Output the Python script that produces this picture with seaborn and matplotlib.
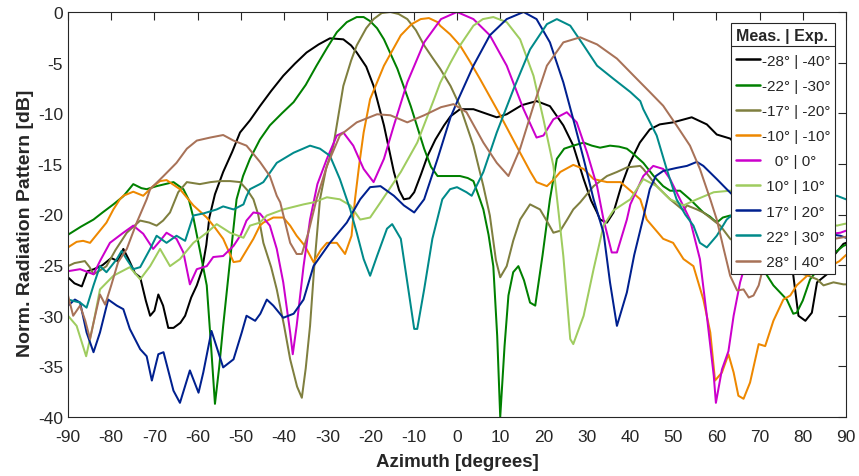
import matplotlib
matplotlib.use("Agg")
import matplotlib.pyplot as plt
from matplotlib.lines import Line2D
import pandas as pd
import seaborn as sns

# Steering cases: measured angle | expected angle (degrees)
meas_angles = [-28, -22, -17, -10, 0, 10, 17, 22, 28]
exp_angles = [-40, -30, -20, -10, 0, 10, 20, 30, 40]
line_colors = ["#000000", "#008000", "#7f7f3f", "#ee8800", "#cc00cc",
               "#9fcc5f", "#00208f", "#008a8a", "#a87258"]

# Normalized radiation patterns, (azimuth [deg], level [dB])
pattern_m28 = [
    (-90, -26.2), (-88.5, -26.8), (-86.8, -27.1), (-85.5, -25.6), (-84, -25.4), (-82, -25.0),
    (-80, -24.3), (-78.5, -24.6), (-77.2, -23.4), (-76, -24.4), (-74.5, -25.8), (-73.3, -26.2),
    (-72, -28.5), (-71, -30.0), (-70, -29.5), (-69.1, -27.9), (-68, -29.0), (-66.8, -31.2),
    (-65.6, -31.2), (-64, -30.7), (-62.9, -30.0), (-61.5, -28.2), (-60.2, -27.0), (-59, -25.5),
    (-58, -23.0), (-57.3, -20.3), (-56, -18.0), (-54.1, -15.8), (-52, -13.8), (-50.2, -11.9),
    (-47.9, -10.7), (-45.6, -9.3), (-43, -7.8), (-40.2, -6.3), (-37.5, -5.1), (-34.8, -4.0),
    (-32, -3.2), (-29.4, -2.6), (-26.3, -2.7), (-24.5, -3.3), (-23.2, -4.0), (-21, -5.4),
    (-19.3, -7.3), (-16.9, -11.2), (-14.6, -15.8), (-13.4, -17.6), (-12.3, -18.5), (-11, -18.4),
    (-9.9, -17.8), (-8.3, -16.0), (-6.8, -14.2), (-5, -12.6), (-3.0, -11.2), (-1.5, -10.3),
    (0.7, -9.6), (3.8, -9.6), (6.5, -10.0), (9.2, -10.4), (11.5, -10.1), (15, -9.2),
    (18.4, -8.8), (21.5, -9.3), (24.6, -11.2), (26.9, -13.2), (29.3, -16.5), (31, -18.6),
    (32.4, -19.8), (33.1, -20.5), (34.7, -20.8), (36.2, -19.8), (38, -17.2), (40, -14.9),
    (42.3, -12.9), (44.6, -11.6), (46.9, -11.1), (50, -10.9), (54.3, -10.4), (57.8, -11.1),
    (60.1, -12.1), (63.2, -12.5), (66, -13.8), (70, -17.0), (74, -20.5), (76.5, -23.0),
    (77.8, -26.0), (79.0, -30.0), (80.6, -30.5), (82.1, -29.7), (83.3, -26.7), (85.6, -25.9),
    (87.1, -24.1), (89.4, -22.9), (90, -22.8),
]
pattern_m22 = [
    (-90, -22.0), (-87, -21.2), (-84.1, -20.5), (-82, -19.8), (-79.5, -19.0), (-77.2, -18.2),
    (-74.9, -17.0), (-73, -17.4), (-71.8, -17.5), (-69.5, -17.2), (-65.6, -16.8), (-63.3, -17.5),
    (-62, -18.6), (-61.0, -20.3), (-59.5, -23.5), (-57.9, -27.0), (-56.9, -33.0), (-56.0, -38.7),
    (-55, -35.0), (-54.1, -31.0), (-52.5, -24.5), (-51.0, -18.5), (-49.5, -16.2), (-47.9, -14.5),
    (-45.6, -12.6), (-43.3, -11.2), (-40.5, -10.0), (-37.8, -8.9), (-35, -7.2), (-32.5, -5.3),
    (-30, -3.5), (-27.8, -2.0), (-25.5, -1.0), (-23.2, -0.5), (-21.6, -0.5), (-20.1, -0.9),
    (-18.5, -1.6), (-16.9, -2.7), (-13.8, -5.6), (-10.7, -9.3), (-7.6, -13.5), (-6, -15.3),
    (-4.5, -16.2), (-1.5, -16.2), (0.7, -16.2), (2.5, -16.4), (3.8, -16.7), (5.3, -18.5),
    (6.1, -19.5), (7.3, -22.0), (8.4, -25.1), (9.3, -32.0), (10, -40.0), (11, -33.0),
    (11.9, -28.0), (13, -25.7), (14.2, -25.1), (15.5, -26.5), (16.9, -28.7), (18.1, -29.0),
    (19.8, -24.0), (21.5, -18.5), (23.1, -14.5), (24.8, -13.5), (26.9, -13.2), (29.3, -12.9),
    (31.2, -13.2), (33.1, -13.4), (35.4, -13.2), (37.5, -13.3), (39.3, -13.5), (40.5, -13.9),
    (43.1, -14.9), (45.5, -16.2), (47.7, -17.2), (49.3, -17.65), (51.6, -17.65), (53.9, -18.5),
    (57.0, -19.8), (58.5, -20.2), (60.1, -20.8), (61.5, -20.3), (63.2, -20.1), (66, -21.5),
    (69, -24.0), (71.7, -26.0), (73.2, -27.0), (76.3, -28.4), (77.8, -29.8), (78.6, -29.7),
    (80, -28.5), (81.7, -26.4), (84.1, -25.1), (86.4, -24.1), (89.4, -23.1), (90, -23.0),
]
pattern_m17 = [
    (-90, -25.1), (-88.5, -24.8), (-86.1, -24.6), (-85, -25.2), (-84.1, -25.9), (-82.5, -25.5),
    (-81.1, -25.1), (-79, -23.5), (-76.4, -21.8), (-73.3, -20.6), (-71.2, -20.8), (-69.5, -21.1),
    (-68, -20.6), (-66.4, -19.8), (-64.5, -17.8), (-62.5, -16.8), (-59.5, -17.0), (-57, -16.8),
    (-54.8, -16.7), (-52.5, -16.7), (-50.2, -16.8), (-48.5, -17.6), (-47.1, -18.5), (-46, -20.0),
    (-44.8, -22.8), (-43, -25.2), (-41.7, -27.4), (-40, -31.0), (-38.6, -34.3), (-37, -37.0),
    (-35.9, -38.1), (-35, -35.2), (-34.0, -31.0), (-33, -25.0), (-31.7, -18.5), (-30.3, -15.5),
    (-28.6, -13.2), (-26.3, -7.3), (-24.5, -4.8), (-23.2, -3.3), (-21, -1.6), (-19.3, -0.7),
    (-17.4, -0.1), (-15.4, 0.0), (-13.5, -0.2), (-11.5, -0.7), (-9.5, -1.8), (-7.6, -3.3),
    (-5.7, -4.5), (-3.9, -5.6), (-1.5, -7.3), (0.7, -9.3), (3.8, -13.2), (6.1, -17.2),
    (7.6, -20.1), (9, -24.5), (10, -26.2), (11.5, -25.1), (13, -22.6), (14.6, -20.5),
    (16.9, -19.0), (19.2, -19.5), (21, -20.8), (22.3, -21.8), (23.9, -21.6), (25.5, -20.5),
    (26.9, -19.5), (28.5, -18.8), (31.6, -17.2), (34.7, -16.2), (37, -15.8), (39.3, -15.35),
    (42.4, -15.2), (43.1, -15.5), (46.2, -17.2), (49.3, -18.5), (52.4, -19.6), (53.2, -19.1),
    (55.5, -19.5), (57.0, -19.8), (60.9, -21.1), (63.2, -22.4), (67, -23.5), (72, -24.5),
    (77, -25.5), (81, -26.0), (83.3, -26.4), (84.8, -27.0), (87.1, -26.7), (89.4, -26.9),
    (90, -26.9),
]
pattern_m10 = [
    (-90, -23.25), (-88, -22.7), (-86.5, -22.6), (-84.9, -22.8), (-83, -21.8), (-81.1, -20.8),
    (-79.5, -19.5), (-78, -18.5), (-77.2, -18.15), (-74.9, -17.75), (-72.6, -18.15), (-70.3, -17.2),
    (-68.7, -16.7), (-67.2, -16.6), (-64.1, -17.5), (-61.0, -19.1), (-57.9, -20.3), (-56, -21.3),
    (-54.1, -22.4), (-51.7, -24.7), (-50.2, -24.6), (-47.1, -22.4), (-45.6, -21.1), (-44.8, -20.8),
    (-42.5, -20.3), (-40.2, -20.3), (-38.6, -21.1), (-37.1, -22.1), (-35.2, -23.1), (-33.2, -24.7),
    (-31.5, -23.5), (-30.1, -22.8), (-27.8, -22.8), (-25.9, -23.9), (-24.4, -22.1), (-23.6, -18.5),
    (-22.6, -15.0), (-21.6, -11.9), (-20.1, -8.6), (-16.9, -5.3), (-13.0, -2.3), (-10.5, -1.2),
    (-8.4, -0.7), (-6.5, -0.6), (-4.5, -1.0), (-3.9, -1.35), (-1.6, -2.2), (0.7, -3.3),
    (3, -4.9), (5.3, -6.6), (10, -10.2), (14.6, -13.9), (17, -15.8), (18.4, -16.8),
    (20.8, -17.2), (22.5, -16.5), (23.9, -15.8), (26.9, -15.1), (29.3, -15.5), (31.6, -16.5),
    (34.7, -16.8), (37.8, -16.8), (40, -17.6), (42.4, -18.5), (43.9, -20.5), (47.7, -22.4),
    (50, -22.8), (52.4, -24.4), (54.7, -25.1), (57.0, -28.4), (58.6, -31.65), (59.7, -36.4),
    (61.3, -35.6), (62.8, -33.8), (64.0, -35.6), (65.1, -37.9), (66.3, -38.2), (67.8, -36.6),
    (69.8, -32.8), (71.3, -33.0), (73.2, -30.5), (75.5, -28.4), (77.1, -28.0), (78.6, -27.0),
    (81.0, -26.05), (84.1, -25.4), (86.4, -25.1), (88.5, -24.6), (90, -24.0),
]
pattern_0 = [
    (-90, -25.6), (-87.2, -25.4), (-84.1, -25.9), (-82.6, -24.6), (-80.3, -22.8), (-77.2, -21.8),
    (-74.9, -21.1), (-72.6, -21.9), (-70.3, -23.4), (-68.5, -22.5), (-67.2, -21.8), (-64.9, -22.4),
    (-63.3, -23.75), (-61.8, -26.9), (-60.2, -25.4), (-57.9, -25.1), (-56.4, -24.2), (-54.1, -24.1),
    (-51.7, -23.1), (-50, -22.0), (-48.7, -20.6), (-47.1, -19.8), (-45.6, -19.9), (-43.3, -21.1),
    (-41.7, -23.4), (-40.2, -26.7), (-38.6, -31.65), (-38.0, -33.8), (-37.1, -31.0), (-35.5, -25.1),
    (-34.0, -20.5), (-32.3, -17.0), (-30.1, -14.5), (-27.8, -12.2), (-26.3, -11.9), (-24.0, -13.2),
    (-21.6, -15.5), (-19.3, -16.8), (-16.9, -14.5), (-14.6, -11.2), (-11.5, -6.95), (-7.6, -3.0),
    (-3.7, -0.7), (0, 0.0), (3.8, -0.7), (7.6, -2.3), (11.5, -5.3), (15.4, -9.6),
    (18.4, -12.4), (20.0, -12.2), (22.3, -10.6), (25.4, -9.9), (27.7, -10.9), (30.1, -13.9),
    (32.4, -17.2), (33.9, -20.5), (35.8, -23.75), (37.0, -23.75), (39.3, -20.5), (40.1, -19.0),
    (43.1, -16.2), (45.4, -15.2), (47.7, -15.5), (49.3, -16.5), (51.6, -18.5), (53.9, -20.5),
    (56.2, -24.4), (57.8, -30.0), (59.4, -35.9), (59.9, -38.6), (61.3, -35.3), (62.8, -33.5),
    (64.0, -30.0), (65.5, -26.7), (67, -24.5), (70, -23.5), (75, -22.5), (80, -22.0),
    (85, -22.0), (88.7, -21.8), (90, -21.6),
]
pattern_p10 = [
    (-90, -30.0), (-88.0, -31.0), (-85.8, -34.0), (-84.1, -30.7), (-82.6, -27.4), (-79.5, -26.05),
    (-75.7, -25.2), (-73.3, -26.4), (-71.0, -25.1), (-68.7, -23.4), (-66.4, -25.1), (-64.1, -24.4),
    (-61.0, -22.8), (-57.9, -21.8), (-55.6, -20.95), (-52.5, -21.8), (-49.4, -22.3), (-47.9, -21.1),
    (-45.6, -20.8), (-44.0, -20.1), (-40.2, -19.5), (-35.5, -19.0), (-33.2, -18.8), (-30.1, -18.3),
    (-27.1, -18.5), (-24.7, -19.1), (-22.4, -20.5), (-20.1, -20.3), (-17.7, -18.8), (-15.5, -17.4),
    (-13.0, -15.8), (-9.2, -12.9), (-5.3, -8.6), (-3.9, -7.0), (-1.5, -5.0), (0.7, -3.3),
    (3.8, -1.35), (6, -0.7), (8.4, -0.5), (11.5, -1.0), (14.6, -2.7), (17.7, -6.3),
    (20.0, -10.6), (22.3, -15.2), (23.5, -19.8), (24.6, -24.1), (26.2, -32.3), (26.9, -32.8),
    (29.3, -30.0), (31.6, -25.4), (33.9, -21.1), (36.2, -19.6), (40.1, -18.5), (43.1, -16.5),
    (46.2, -17.2), (49.3, -18.5), (52.4, -19.1), (55.5, -18.5), (59.4, -17.8), (63.2, -17.65),
    (68, -18.0), (75, -19.5), (82, -20.5), (87.9, -21.1), (89.4, -20.95), (90, -20.9),
]
pattern_p17 = [
    (-90, -29.0), (-88.4, -28.4), (-87.2, -28.7), (-85.7, -31.65), (-84.1, -33.6), (-82.6, -31.65),
    (-80.7, -28.4), (-78.7, -29.0), (-77.2, -29.35), (-75.7, -31.3), (-73.3, -33.3), (-71.8, -34.0),
    (-70.6, -36.4), (-69.1, -33.8), (-67.9, -33.6), (-65.6, -37.4), (-64.1, -38.6), (-61.8, -35.4),
    (-59.8, -37.6), (-58.7, -35.6), (-56.8, -31.5), (-54.1, -35.1), (-51.7, -34.3), (-49.8, -31.65),
    (-48.7, -30.0), (-46.7, -30.5), (-45.5, -29.8), (-44.0, -28.4), (-42.5, -29.0), (-40.2, -30.2),
    (-37.8, -29.8), (-35.5, -28.4), (-33.2, -25.1), (-29.4, -22.8), (-25.5, -20.8), (-22.4, -18.5),
    (-20.1, -17.3), (-17.7, -17.2), (-14.6, -18.15), (-12.3, -19.1), (-9.9, -19.8), (-7.6, -18.5),
    (-4.5, -14.5), (-1.5, -10.4), (0, -8.9), (3.8, -5.3), (7.6, -2.3), (11.5, -0.7),
    (15.4, 0.0), (18.4, -0.7), (21.5, -3.0), (24.6, -6.95), (26.9, -10.6), (29.3, -14.5),
    (31.6, -18.5), (33.9, -21.8), (35.4, -26.7), (37.0, -31.0), (39.3, -27.7), (41, -24.0),
    (43, -20.5), (44.6, -17.5), (46, -16.2), (47.7, -15.7), (50.8, -15.4), (53.2, -15.2),
    (55.5, -14.8), (57.0, -15.2), (60.1, -16.5), (62.4, -17.5), (66, -19.0), (72, -20.5),
    (80, -21.5), (88.7, -22.1), (90, -22.3),
]
pattern_p22 = [
    (-90, -28.4), (-87.2, -28.7), (-85.7, -29.2), (-84.1, -27.0), (-82.6, -25.1), (-81.1, -25.7),
    (-78.7, -24.4), (-77.6, -23.6), (-76.3, -24.5), (-74.9, -25.4), (-73.3, -25.2), (-71.0, -23.4),
    (-69.5, -22.1), (-67.2, -22.8), (-64.9, -22.1), (-62.9, -22.6), (-61.0, -20.1), (-58.7, -19.9),
    (-55.6, -19.5), (-54.1, -19.2), (-51.7, -19.5), (-49.4, -19.0), (-48.7, -18.2), (-47.9, -17.5),
    (-45.6, -17.0), (-44.8, -16.8), (-41.7, -14.9), (-37.8, -13.9), (-34.0, -13.2), (-31.7, -13.5),
    (-29.4, -14.2), (-27.1, -16.5), (-24.7, -19.5), (-23.2, -21.8), (-21.6, -24.4), (-20.1, -26.05),
    (-18.5, -24.1), (-16.2, -21.4), (-15.0, -20.95), (-13.0, -22.4), (-11.5, -26.7), (-9.9, -31.3),
    (-9.2, -31.3), (-7.6, -27.4), (-5.7, -22.4), (-3.4, -18.5), (-1.6, -17.5), (0, -17.3),
    (2.2, -17.8), (3.4, -18.15), (6.1, -15.8), (9.2, -11.9), (13.1, -7.6), (16.9, -3.7),
    (20.8, -1.2), (23.1, -0.7), (26.2, -1.35), (29.3, -3.3), (32.4, -5.3), (36.2, -6.6),
    (40.1, -7.9), (42.4, -8.8), (43.1, -9.6), (46.2, -12.2), (48.5, -15.5), (50.8, -18.5),
    (52.8, -20.0), (54.7, -21.1), (56.2, -22.8), (57.8, -23.25), (60.1, -22.1), (62.4, -20.5),
    (65, -19.5), (75, -18.5), (87.9, -18.15), (90, -18.5),
]
pattern_p28 = [
    (-90, -28.0), (-88.8, -30.0), (-87.2, -29.0), (-86, -30.5), (-84.9, -32.3), (-84.1, -30.7),
    (-82.6, -27.9), (-81.4, -28.9), (-80, -27.0), (-78.4, -24.7), (-76.4, -23.4), (-74.1, -20.8),
    (-71.8, -18.5), (-71.0, -17.5), (-67.9, -16.2), (-64.9, -14.9), (-62.5, -13.5), (-60.2, -12.7),
    (-57.1, -12.4), (-54.1, -12.15), (-51.7, -12.7), (-48.7, -13.2), (-45.6, -14.8), (-43.3, -16.2),
    (-41.7, -18.15), (-40.9, -18.8), (-38.6, -22.8), (-37.1, -23.9), (-35.9, -23.9), (-34.4, -21.8),
    (-32.5, -18.5), (-30.1, -15.2), (-27.1, -12.2), (-23.2, -10.9), (-18.5, -10.1), (-15.4, -10.2),
    (-11.5, -10.9), (-7.6, -10.2), (-3.7, -9.4), (-0.8, -9.1), (2.2, -9.9), (6.1, -12.9),
    (9.2, -14.9), (11.9, -16.2), (14.6, -13.5), (17.7, -9.26), (20.8, -5.3), (24.6, -3.0),
    (28.5, -2.5), (32.4, -3.2), (37.0, -4.6), (40.9, -6.3), (42.4, -6.95), (44.6, -7.9),
    (47.7, -9.26), (50.8, -11.2), (53.9, -13.2), (56.2, -15.5), (58.6, -18.5), (60.1, -20.5),
    (61.7, -23.4), (63.2, -26.05), (64.8, -27.5), (66.3, -27.4), (67.5, -28.2), (68.6, -28.0),
    (69.8, -27.0), (70.9, -25.1), (74, -23.5), (80, -23.0), (86, -22.5), (90, -22.2),
]
patterns = [pattern_m28, pattern_m22, pattern_m17, pattern_m10, pattern_0,
            pattern_p10, pattern_p17, pattern_p22, pattern_p28]

x_ticks = list(range(-90, 91, 10))
y_ticks = list(range(-40, 1, 5))


def case_label(m, e):
    m_txt = f"{m}\u00b0"
    pad = {1: "   ", 2: " "}.get(len(str(m)), "")
    return f"{pad}{m_txt} | {e}\u00b0"


labels = [case_label(m, e) for m, e in zip(meas_angles, exp_angles)]

frames = []
for lab, pts in zip(labels, patterns):
    frames.append(pd.DataFrame({"az": [p[0] for p in pts],
                                "level": [p[1] for p in pts],
                                "case": lab}))
df = pd.concat(frames, ignore_index=True)

sns.set_style("white")
plt.rcParams["font.family"] = ["Liberation Sans", "DejaVu Sans"]
plt.rcParams["axes.unicode_minus"] = False

W, H = 859, 477
fig = plt.figure(figsize=(W / 100, H / 100), dpi=100)
ax = fig.add_axes([68 / W, 1 - 418 / H, (846 - 68) / W, (418 - 13) / H])

palette = dict(zip(labels, line_colors))
sns.lineplot(data=df, x="az", y="level", hue="case", hue_order=labels,
             palette=palette, estimator=None, sort=False, legend=False,
             linewidth=1.45, ax=ax)

ax.set_xlim(-90, 90)
ax.set_ylim(-40, 0)
ax.set_xticks(x_ticks)
ax.set_yticks(y_ticks)
ax.set_xticklabels([str(t) for t in x_ticks])
ax.set_yticklabels([str(t) for t in y_ticks])
axis_color = "#262626"
for side in ["left", "right", "top", "bottom"]:
    ax.spines[side].set_visible(True)
    ax.spines[side].set_color(axis_color)
    ax.spines[side].set_linewidth(0.8)
ax.tick_params(axis="both", which="major", direction="in", length=5.5, width=0.8,
               color=axis_color, labelcolor=axis_color, labelsize=12.5,
               top=True, right=True)
ax.tick_params(axis="x", pad=8.5)
ax.tick_params(axis="y", pad=3.6)
ax.set_xlabel("Azimuth [degrees]", fontsize=13.5, fontweight="bold", color=axis_color)
ax.set_ylabel("Norm. Radiation Pattern [dB]", fontsize=14, fontweight="bold",
              color=axis_color)
ax.xaxis.set_label_coords(0.5, -0.088)
ax.yaxis.set_label_coords(-0.044, 0.48)
ax.grid(False)

handles = [Line2D([], [], color=c, lw=1.8) for c in line_colors]
leg = ax.legend(handles, labels, title="Meas. | Exp.", loc="upper right",
                bbox_to_anchor=((835 - 68) / 778, 1 - (24 - 13) / 405),
                bbox_transform=ax.transAxes, borderaxespad=0, frameon=True,
                fancybox=False, framealpha=1, edgecolor=axis_color,
                fontsize=11, title_fontproperties={"weight": "bold", "size": 11.5},
                handlelength=1.57, handletextpad=0.15, labelspacing=0.73,
                borderpad=0.3)
leg.get_frame().set_linewidth(0.8)
leg._legend_box.align = "left"

# separator line between the legend title and its entries
fig.canvas.draw()
frame_bb = leg.get_frame().get_window_extent()
title_bb = leg.get_title().get_window_extent()
y_sep = title_bb.y0 - 3
inv = fig.transFigure.inverted()
(x0f, yf), (x1f, _) = inv.transform([(frame_bb.x0, y_sep), (frame_bb.x1, y_sep)])
fig.add_artist(Line2D([x0f, x1f], [yf, yf], color=axis_color, lw=0.8, zorder=10))

fig.savefig("out.png", dpi=100)
